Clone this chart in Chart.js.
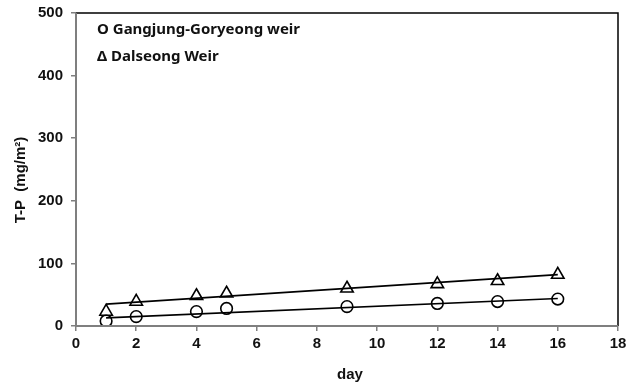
<!DOCTYPE html>
<html>
<head>
<meta charset="utf-8">
<script src="https://cdn.jsdelivr.net/npm/chart.js@4/dist/chart.umd.min.js"></script>
<style>
  html, body { margin: 0; padding: 0; background: #fff; }
  #wrap { width: 637px; height: 385px; position: relative; }
</style>
</head>
<body>
<div id="wrap"><canvas id="c" width="637" height="385"></canvas></div>
<script>
// Sampling days
const days = [1, 2, 4, 5, 9, 12, 14, 16];
// T-P (mg/m²) at each site
const gangjung = [8, 15, 23, 28, 31, 36, 39, 43];
const dalseong = [23, 39, 48, 52, 60, 67, 72, 82];
// Linear trend lines (start/end day and values)
const trendDays = [1, 16];
const gangjungTrend = [13, 44];
const dalseongTrend = [35, 82];
// Axis ticks
const xTicks = [0, 2, 4, 6, 8, 10, 12, 14, 16, 18];
const yTicks = [0, 100, 200, 300, 400, 500];
// Legend entries
const legendItems = ['O Gangjung-Goryeong weir', '\u0394 Dalseong Weir'];

const pts = (xs, ys) => xs.map((x, i) => ({ x: x, y: ys[i] }));

const tickFont = { family: '"Liberation Sans", Arial, sans-serif', size: 15, weight: 'bold' };

const framePlugin = {
  id: 'frame',
  afterDraw(chart) {
    const { ctx, chartArea: a } = chart;
    ctx.save();
    // top and right edges of the plot box
    ctx.strokeStyle = '#000';
    ctx.lineWidth = 1.5;
    ctx.beginPath();
    ctx.moveTo(a.left, a.top);
    ctx.lineTo(a.right, a.top);
    ctx.lineTo(a.right, a.bottom);
    ctx.stroke();
    // axis lines
    ctx.strokeStyle = '#7f7f7f';
    ctx.lineWidth = 2;
    ctx.beginPath();
    ctx.moveTo(a.left, a.top);
    ctx.lineTo(a.left, a.bottom);
    ctx.lineTo(a.right, a.bottom);
    ctx.stroke();

    // legend text
    ctx.fillStyle = '#111';
    ctx.font = 'bold 15px "Noto Sans", sans-serif';
    ctx.textBaseline = 'middle';
    ctx.textAlign = 'left';
    ctx.fillText(legendItems[0], 97, 30);
    ctx.fillText(legendItems[1], 97, 57);

    // axis titles
    ctx.font = 'bold 15px "Liberation Sans", Arial, sans-serif';
    ctx.textAlign = 'center';
    ctx.fillText('day', 350, 375);
    ctx.save();
    ctx.translate(21, 180);
    ctx.rotate(-Math.PI / 2);
    ctx.fillText('T-P  (mg/m\u00B2)', 0, 0);
    ctx.restore();
    ctx.restore();
  }
};

new Chart(document.getElementById('c'), {
  type: 'scatter',
  data: {
    datasets: [
      {
        label: 'Gangjung-Goryeong weir',
        data: pts(days, gangjung),
        pointStyle: 'circle',
        pointRadius: 5.8,
        pointBorderWidth: 1.6,
        pointBorderColor: '#000',
        pointBackgroundColor: 'rgba(0,0,0,0)',
        showLine: false
      },
      {
        label: 'Dalseong Weir',
        data: pts(days, dalseong),
        pointStyle: 'triangle',
        pointRadius: 7.2,
        pointBorderWidth: 1.6,
        pointBorderColor: '#000',
        pointBackgroundColor: 'rgba(0,0,0,0)',
        showLine: false
      },
      {
        label: 'Gangjung trend',
        data: pts(trendDays, gangjungTrend),
        showLine: true,
        borderColor: '#000',
        borderWidth: 1.6,
        pointRadius: 0
      },
      {
        label: 'Dalseong trend',
        data: pts(trendDays, dalseongTrend),
        showLine: true,
        borderColor: '#000',
        borderWidth: 1.6,
        pointRadius: 0
      }
    ]
  },
  options: {
    responsive: false,
    animation: false,
    layout: { padding: { top: 13, right: 19, left: 0, bottom: 0 } },
    plugins: { legend: { display: false }, tooltip: { enabled: false } },
    scales: {
      x: {
        type: 'linear',
        min: 0, max: 18,
        afterBuildTicks(s) { s.ticks = xTicks.map(v => ({ value: v })); },
        afterFit(s) { s.height = 59; s.paddingLeft = 0; s.paddingRight = 0; },
        border: { display: false },
        grid: { drawOnChartArea: false, color: '#7f7f7f', tickLength: 5, lineWidth: 1.5 },
        ticks: { font: tickFont, color: '#111', padding: 4, maxRotation: 0 }
      },
      y: {
        type: 'linear',
        min: 0, max: 500,
        afterBuildTicks(s) { s.ticks = yTicks.map(v => ({ value: v })); },
        afterFit(s) { s.width = 76; s.paddingTop = 0; s.paddingBottom = 0; },
        border: { display: false },
        grid: { drawOnChartArea: false, color: '#7f7f7f', tickLength: 5, lineWidth: 1.5 },
        ticks: { font: tickFont, color: '#111', padding: 8 }
      }
    }
  },
  plugins: [framePlugin]
});
</script>
</body>
</html>
